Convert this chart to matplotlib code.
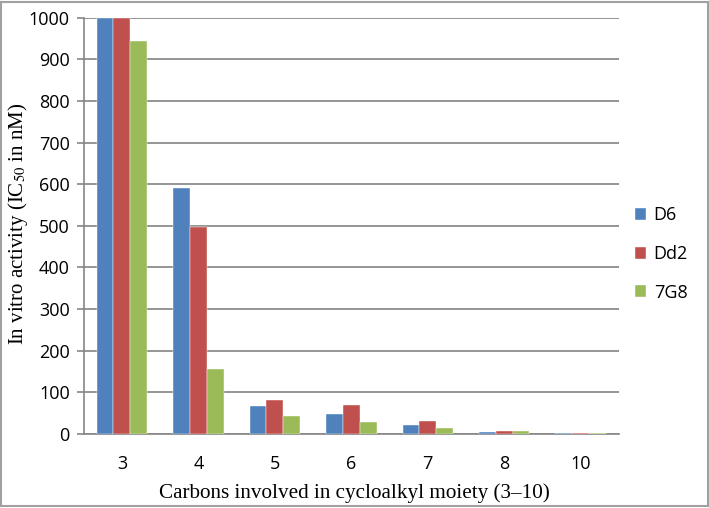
import numpy as np
import matplotlib
matplotlib.use("Agg")
import matplotlib.pyplot as plt

# values (IC50 in nM)
categories = ["3", "4", "5", "6", "7", "8", "10"]
d6 = [1000, 590, 66, 47, 21, 4, 1]
dd2 = [1000, 497, 82, 69, 32, 6, 1]
g78 = [945, 155, 43, 28, 14, 6, 2]
series_names = ["D6", "Dd2", "7G8"]
colors = ["#4F81BD", "#C0504D", "#9BBB59"]
y_ticks = [0, 100, 200, 300, 400, 500, 600, 700, 800, 900, 1000]

plt.rcParams['mathtext.fontset'] = 'stix'

fig = plt.figure(figsize=(7.09, 5.08), dpi=100)
ax = fig.add_axes([0.118, 0.146, 0.755, 0.819])

x = np.arange(len(categories))
w = 0.22
for i, (vals, name, c) in enumerate(zip([d6, dd2, g78], series_names, colors)):
    ax.bar(x + (i - 1) * w, vals, width=w, color=c, label=name,
           edgecolor="white", linewidth=0.3, zorder=3)

ax.set_xlim(-0.5, len(categories) - 0.5)
ax.set_ylim(0, 1000)
ax.set_yticks(y_ticks)
ax.set_xticks(x)
ax.set_xticklabels(categories)
ax.tick_params(axis="x", length=0, pad=15)
ax.tick_params(axis="y", length=5, color="#868686", width=1.2, pad=5)
for lab in ax.get_xticklabels() + ax.get_yticklabels():
    lab.set_fontfamily("Open Sans")
    lab.set_fontsize(13)

ax.grid(axis="y", color="#8c8c8c", linewidth=1.3, zorder=0)
for s in ["top", "right"]:
    ax.spines[s].set_visible(False)
ax.spines["left"].set_color("#868686")
ax.spines["bottom"].set_color("#868686")
ax.spines["left"].set_linewidth(1.2)
ax.spines["bottom"].set_linewidth(1.2)

# axis titles placed in figure coords
fig.text(0.500, 0.030, "Carbons involved in cycloalkyl moiety (3\u201310)",
         fontfamily="Liberation Serif", fontsize=15.2, ha="center", va="center")
fig.text(0.025, 0.560, "In vitro activity (IC$_{50}$ in nM)",
         fontfamily="Liberation Serif", fontsize=15, ha="center", va="center",
         rotation=90)

leg = fig.legend(loc="center left", bbox_to_anchor=(0.885, 0.50), frameon=False,
                 prop={"family": "Open Sans", "size": 13}, handlelength=0.65,
                 handleheight=0.65, handletextpad=0.4, labelspacing=1.15,
                 borderaxespad=0.0)

fig.patches.append(plt.Rectangle((0.002, 0.003), 0.996, 0.994,
                                 transform=fig.transFigure, fill=False,
                                 edgecolor="#a0a0a0", linewidth=1.5))

fig.savefig("out.png", dpi=100)
